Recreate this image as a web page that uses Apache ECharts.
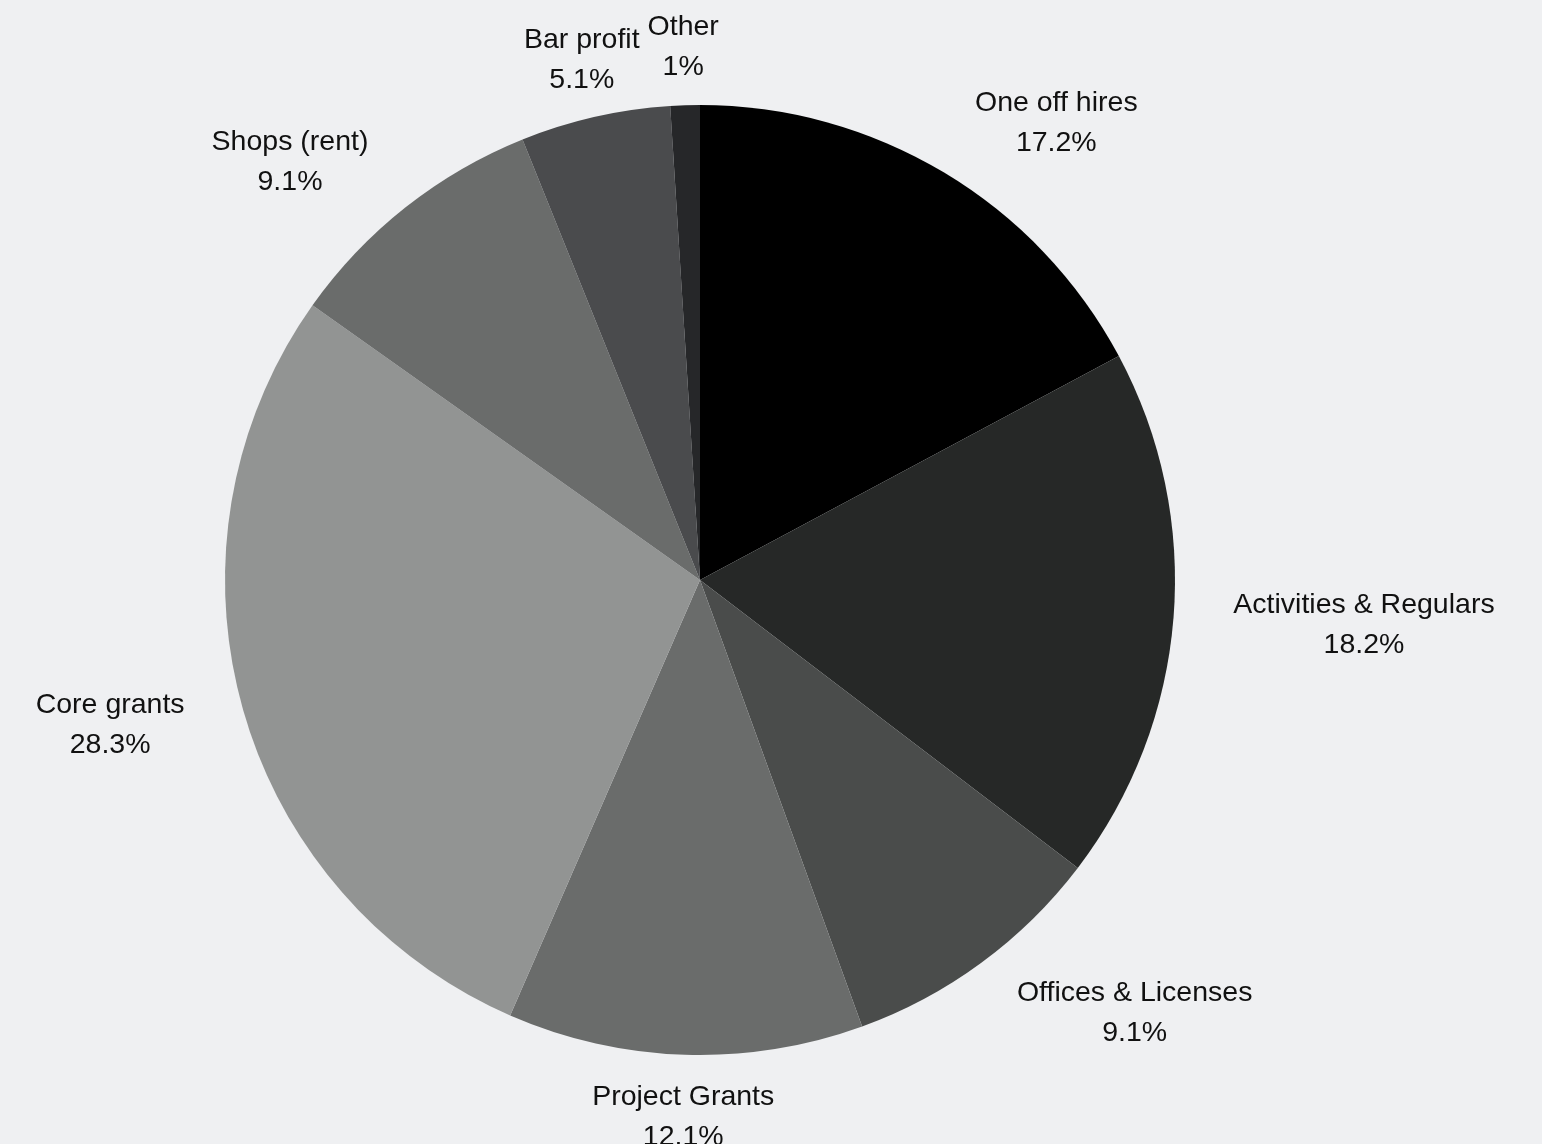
<!DOCTYPE html>
<html>
<head>
<meta charset="utf-8">
<script src="https://cdn.jsdelivr.net/npm/echarts@6/dist/echarts.min.js"></script>
<style>
html,body{margin:0;padding:0;background:#eff0f2;}
#chart{width:1542px;height:1144px;}
</style>
</head>
<body>
<div id="chart"></div>
<script>
var categories = ['One off hires', 'Activities & Regulars', 'Offices & Licenses', 'Project Grants', 'Core grants', 'Shops (rent)', 'Bar profit', 'Other'];
var percentages = [17.2, 18.2, 9.1, 12.1, 28.3, 9.1, 5.1, 1];
var sliceColors = ['#000000', '#262827', '#4a4c4b', '#6a6c6b', '#929493', '#6a6c6b', '#4a4b4d', '#262729'];

var CX = 700, CY = 580, R = 475, OFFSET = 60;

var total = percentages.reduce(function (a, b) { return a + b; }, 0);
function midAngle(i) {
  var before = 0;
  for (var k = 0; k < i; k++) before += percentages[k];
  return (before + percentages[i] / 2) / total * Math.PI * 2;
}

var chart = echarts.init(document.getElementById('chart'));
chart.setOption({
  backgroundColor: '#eff0f2',
  animation: false,
  series: [{
    type: 'pie',
    center: [CX, CY],
    radius: R,
    startAngle: 90,
    clockwise: true,
    avoidLabelOverlap: false,
    data: categories.map(function (c, i) {
      return { name: c, value: percentages[i], itemStyle: { color: sliceColors[i] } };
    }),
    itemStyle: { borderWidth: 0 },
    label: {
      show: true,
      position: 'outside',
      distanceToLabelLine: 0,
      formatter: function (p) { return p.name + '\n' + p.value + '%'; },
      fontFamily: 'Liberation Sans, Arial, sans-serif',
      fontSize: 28.5,
      lineHeight: 40,
      color: '#111111'
    },
    labelLine: { show: false, length: OFFSET, length2: 0 },
    emphasis: { disabled: true },
    labelLayout: function (params) {
      var rect = params.labelRect;
      var a = midAngle(params.dataIndex);
      var s = Math.sin(a);
      var ax = CX + (R + OFFSET) * s;
      var ay = CY - (R + OFFSET) * Math.cos(a);
      var f = Math.abs(s) < 0.35 ? 0.5 : (s > 0 ? 0 : 1);
      var left = ax - f * rect.width;
      return {
        x: left + rect.width / 2,
        y: ay + 2,
        align: 'center',
        verticalAlign: 'middle'
      };
    }
  }]
});
</script>
</body>
</html>
